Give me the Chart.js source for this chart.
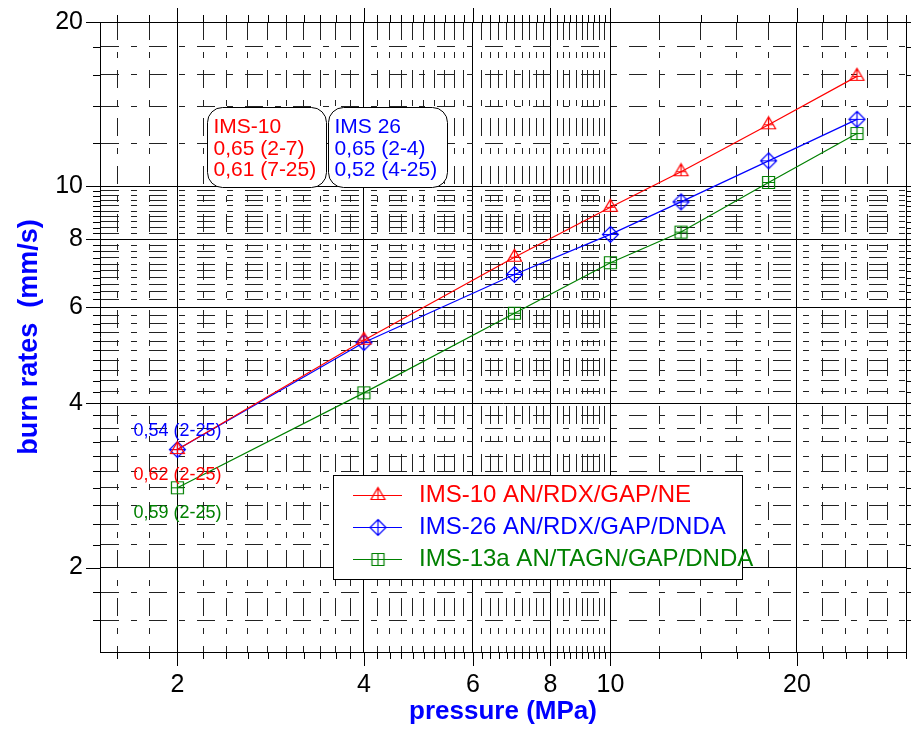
<!DOCTYPE html>
<html>
<head>
<meta charset="utf-8">
<script src="https://cdn.jsdelivr.net/npm/chart.js@4"></script>
<style>
  html, body { margin: 0; padding: 0; background: #fff; }
  #wrap { width: 911px; height: 729px; }
</style>
</head>
<body>
<div id="wrap"><canvas id="chart" width="911" height="729"></canvas></div>
<script>
const FONT = "'Liberation Sans', Arial, sans-serif";

// burn rate measurements (mm/s) at each pressure (MPa)
const pressure = [2, 4, 7, 10, 13, 18, 25];
const rateIms10 = [3.29, 5.22, 7.41, 9.15, 10.63, 12.96, 15.9];
const rateIms26 = [3.29, 5.17, 6.89, 8.16, 9.36, 11.13, 13.26];
const rateIms13a = [2.80, 4.18, 5.85, 7.24, 8.24, 10.16, 12.49];

const seriesNames = ['IMS-10 AN/RDX/GAP/NE', 'IMS-26 AN/RDX/GAP/DNDA', 'IMS-13a AN/TAGN/GAP/DNDA'];
const seriesColors = ['#ff0000', '#0000ff', '#008000'];
const seriesMarkers = ['triangle', 'diamond', 'square'];

// pressure exponents written next to the first point of each curve
const slopeLabels = ['0,62 (2-25)', '0,54 (2-25)', '0,59 (2-25)'];

// exponent boxes at the top
const boxIms10 = ['IMS-10', '0,65 (2-7)', '0,61 (7-25)'];
const boxIms26 = ['IMS 26', '0,65 (2-4)', '0,52 (4-25)'];

// axis ticks
const xMajorTicks = [2, 4, 6, 8, 10, 20];
const yMajorTicks = [2, 4, 6, 8, 10, 20];
const xMin = 1.5, xMax = 30;
const yMin = 1.4, yMax = 20;

function steps(from, to, step) {
  const out = [];
  for (let v = from; v <= to + 1e-9; v += step) out.push(Math.round(v * 10) / 10);
  return out;
}
const xAllTicks = [...steps(1.6, 10, 0.2), ...steps(12, 28, 2), 30];
const yAllTicks = [...steps(1.6, 10, 0.2), ...steps(12, 20, 2)];

function makeMarker(shape, color) {
  const c = document.createElement('canvas');
  c.width = 19; c.height = 19;
  const g = c.getContext('2d');
  const m = 9.5;
  g.strokeStyle = color;
  g.lineWidth = 1.2;
  g.beginPath();
  if (shape === 'triangle') {
    g.moveTo(m, m - 8); g.lineTo(m + 7, m + 4); g.lineTo(m - 7, m + 4); g.closePath();
    g.moveTo(m, m - 8); g.lineTo(m, m + 4);
    g.moveTo(m - 4, m); g.lineTo(m + 4, m);
  } else if (shape === 'diamond') {
    g.moveTo(m, m - 8); g.lineTo(m + 8, m); g.lineTo(m, m + 8); g.lineTo(m - 8, m); g.closePath();
    g.moveTo(m, m - 8); g.lineTo(m, m + 8);
    g.moveTo(m - 8, m); g.lineTo(m + 8, m);
  } else {
    g.rect(m - 6, m - 6, 12, 12);
    g.moveTo(m, m - 6); g.lineTo(m, m + 6);
    g.moveTo(m - 6, m); g.lineTo(m + 6, m);
  }
  g.stroke();
  return c;
}

const rates = [rateIms10, rateIms26, rateIms13a];
const datasets = rates.map((r, i) => ({
  label: seriesNames[i],
  data: pressure.map((p, j) => ({ x: p, y: r[j] })),
  borderColor: seriesColors[i],
  backgroundColor: seriesColors[i],
  borderWidth: 1.2,
  pointStyle: makeMarker(seriesMarkers[i], seriesColors[i]),
  pointRadius: 8,
  tension: 0,
}));

const MINOR_DASH = [18, 12, 6, 12];

function gridFor(majors, edges) {
  const isSolid = (t) => t && (majors.includes(t.value) || edges.includes(t.value));
  return {
    grid: {
      drawTicks: false,
      lineWidth: 1,
      color: (ctx) => isSolid(ctx.tick) ? '#000' : '#222',
    },
    border: {
      color: '#000',
      width: 1,
      dash: (ctx) => (!ctx.tick || isSolid(ctx.tick)) ? [] : MINOR_DASH,
    },
  };
}

// outward tick marks on all four sides
const tickMarks = {
  id: 'tickMarks',
  afterDraw(chart) {
    const { ctx, chartArea: a, scales } = chart;
    ctx.save();
    ctx.strokeStyle = '#000';
    ctx.lineWidth = 1;
    ctx.beginPath();
    scales.x.ticks.forEach((t) => {
      const len = xMajorTicks.includes(t.value) ? 14 : 7;
      const px = Math.round(scales.x.getPixelForValue(t.value)) + 0.5;
      ctx.moveTo(px, a.bottom); ctx.lineTo(px, a.bottom + len);
      ctx.moveTo(px, a.top); ctx.lineTo(px, a.top - len);
    });
    scales.y.ticks.forEach((t) => {
      const len = yMajorTicks.includes(t.value) ? 14 : 7;
      const py = Math.round(scales.y.getPixelForValue(t.value)) + 0.5;
      ctx.moveTo(a.left, py); ctx.lineTo(a.left - len, py);
      ctx.moveTo(a.right, py); ctx.lineTo(a.right + len, py);
    });
    ctx.stroke();
    ctx.restore();
  },
};

function roundBox(ctx, x, y, w, h, r) {
  ctx.beginPath();
  ctx.moveTo(x + r, y);
  ctx.lineTo(x + w - r, y);
  ctx.arcTo(x + w, y, x + w, y + r, r);
  ctx.lineTo(x + w, y + h - r);
  ctx.arcTo(x + w, y + h, x + w - r, y + h, r);
  ctx.lineTo(x + r, y + h);
  ctx.arcTo(x, y + h, x, y + h - r, r);
  ctx.lineTo(x, y + r);
  ctx.arcTo(x, y, x + r, y, r);
  ctx.closePath();
}

// exponent boxes, slope labels and the legend panel
const notes = {
  id: 'notes',
  afterDatasetsDraw(chart) {
    const { ctx } = chart;
    ctx.save();

    const boxes = [
      { x: 207.5, lines: boxIms10, color: seriesColors[0] },
      { x: 328.5, lines: boxIms26, color: seriesColors[1] },
    ];
    boxes.forEach((b) => {
      roundBox(ctx, b.x, 107.5, 119, 80, 15);
      ctx.fillStyle = '#fff';
      ctx.fill();
      ctx.strokeStyle = '#000';
      ctx.lineWidth = 1;
      ctx.stroke();
      ctx.font = '21px ' + FONT;
      ctx.fillStyle = b.color;
      ctx.textAlign = 'left';
      ctx.textBaseline = 'middle';
      b.lines.forEach((s, k) => ctx.fillText(s, b.x + 6, 127.5 + k * 21.5));
    });

    const slopeOffsets = [25, -18.5, 25];
    ctx.font = '18px ' + FONT;
    ctx.textAlign = 'center';
    ctx.textBaseline = 'middle';
    slopeLabels.forEach((s, i) => {
      const pt = chart.getDatasetMeta(i).data[0];
      ctx.fillStyle = seriesColors[i];
      ctx.fillText(s, pt.x, pt.y + slopeOffsets[i]);
    });

    ctx.fillStyle = '#fff';
    ctx.fillRect(333.5, 475.5, 409, 104);
    ctx.strokeStyle = '#000';
    ctx.strokeRect(333.5, 475.5, 409, 104);
    ctx.font = '24px ' + FONT;
    ctx.textAlign = 'left';
    chart.data.datasets.forEach((ds, i) => {
      const y = Math.round(494.7 + i * 32) + 0.5;
      ctx.strokeStyle = ds.borderColor;
      ctx.lineWidth = 1.2;
      ctx.beginPath();
      ctx.moveTo(353, y); ctx.lineTo(402, y);
      ctx.stroke();
      const img = ds.pointStyle;
      ctx.drawImage(img, 378 - img.width / 2, y - img.height / 2);
      ctx.fillStyle = ds.borderColor;
      ctx.fillText(ds.label, 419, y);
    });
    ctx.restore();
  },
};

const xGrid = gridFor(xMajorTicks, [30]);
const yGrid = gridFor(yMajorTicks, []);

new Chart(document.getElementById('chart').getContext('2d'), {
  type: 'line',
  data: { datasets },
  options: {
    responsive: false,
    animation: false,
    layout: { autoPadding: false, padding: { top: 22, right: 5, left: 0, bottom: 0 } },
    plugins: { legend: { display: false }, tooltip: { enabled: false } },
    scales: {
      x: {
        type: 'logarithmic',
        min: xMin,
        max: xMax,
        afterBuildTicks: (s) => { s.ticks = xAllTicks.map((v) => ({ value: v })); },
        afterFit: (s) => { s.height = 77; s.paddingLeft = 0; s.paddingRight = 0; },
        ticks: {
          autoSkip: false,
          maxRotation: 0,
          padding: 18,
          color: '#000',
          font: { family: FONT, size: 25 },
          callback: (v) => xMajorTicks.includes(v) ? String(v) : '',
        },
        title: {
          display: true,
          text: 'pressure (MPa)',
          color: '#0000ff',
          font: { family: FONT, size: 26, weight: 'bold' },
          padding: { top: 0, bottom: 1.5 },
        },
        ...xGrid,
      },
      y: {
        type: 'logarithmic',
        min: yMin,
        max: yMax,
        afterBuildTicks: (s) => { s.ticks = yAllTicks.map((v) => ({ value: v })); },
        afterFit: (s) => { s.width = 100; s.paddingTop = 0; s.paddingBottom = 0; },
        ticks: {
          autoSkip: false,
          padding: 17,
          color: '#000',
          font: { family: FONT, size: 25 },
          callback: (v) => yMajorTicks.includes(v) ? String(v) : '',
        },
        title: {
          display: true,
          text: 'burn rates  (mm/s)',
          color: '#0000ff',
          font: { family: FONT, size: 27, weight: 'bold' },
          padding: { top: 13, bottom: 0 },
        },
        ...yGrid,
      },
    },
  },
  plugins: [tickMarks, notes],
});
</script>
</body>
</html>
